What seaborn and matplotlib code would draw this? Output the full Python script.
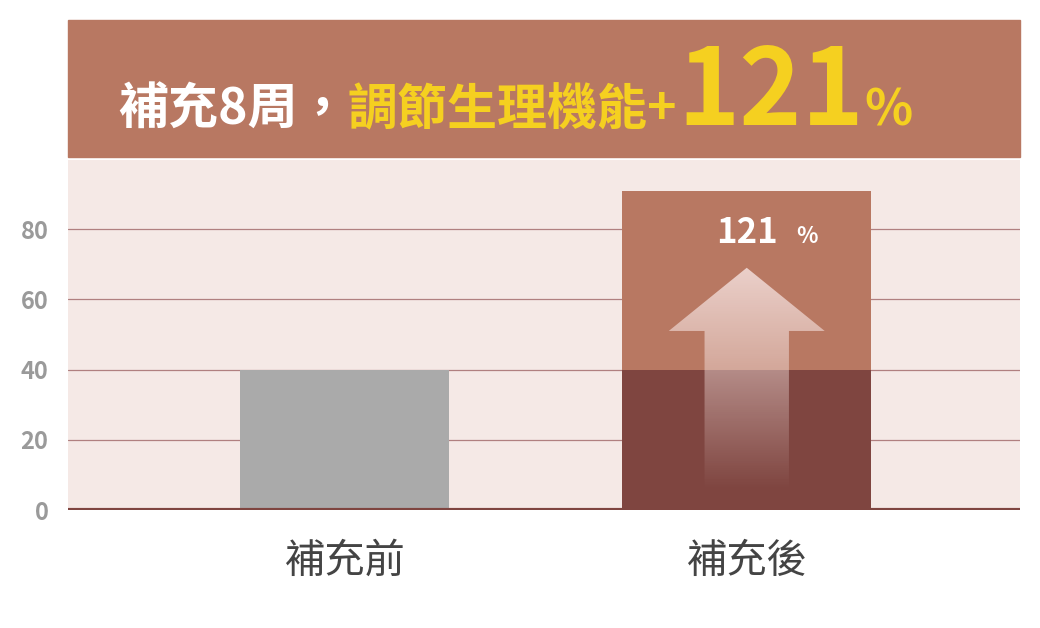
import matplotlib
matplotlib.use("Agg")
import matplotlib.pyplot as plt
import seaborn as sns
import numpy as np
import pandas as pd
from matplotlib.patches import Polygon, Rectangle

categories = ["補充前", "補充後"]
totals = [40, 91]
base = [40, 40]
yticks = [0, 20, 40, 60, 80]

sns.set_theme(style="white")
plt.rcParams['font.family'] = ['Noto Sans CJK TC', 'DejaVu Sans']

fig = plt.figure(figsize=(10.4, 6.28), dpi=100)
W, H = 1040, 628
ax = fig.add_axes([68/W, 1-510/H, 952/W, 350/H])
ax.set_facecolor("#f5e9e6")

df = pd.DataFrame({"cat": categories, "v": totals})
sns.barplot(data=df, x="cat", y="v", hue="cat", palette=["#aaaaaa", "#b87862"], legend=False, ax=ax, saturation=1)
df2 = pd.DataFrame({"cat": categories, "v": base})
sns.barplot(data=df2, x="cat", y="v", hue="cat", palette=["#aaaaaa", "#7f4540"], legend=False, ax=ax, saturation=1)
widths = [0.52, 0.62]
for i, p in enumerate(ax.patches):
    w = widths[i % 2]
    p.set_x((i % 2) - w/2); p.set_width(w); p.set_edgecolor("none"); p.set_zorder(2)

ax.set_xlim(-0.689, 1.68)
ax.set_ylim(0, 99.7)
ax.set_yticks(yticks)
for y in yticks[1:]:
    ax.axhline(y, color="#b08080", lw=0.9, zorder=1)
ax.axhline(0, color="#7f4540", lw=3, zorder=5)
for s in ax.spines.values():
    s.set_visible(False)
ax.tick_params(axis="y", length=0, pad=14, labelsize=17, labelcolor="#9a9a9a")
for t in ax.get_yticklabels():
    t.set_fontweight("bold")
ax.tick_params(axis="x", length=0, pad=22, labelsize=29, labelcolor="#444444")
ax.set_xlabel(""); ax.set_ylabel("")

# gradient arrow
cx = 1.0
pts = [(cx-0.105, 5.7), (cx-0.105, 51), (cx-0.194, 51), (cx, 69), (cx+0.194, 51), (cx+0.105, 51), (cx+0.105, 5.7)]
poly = Polygon(pts, closed=True, facecolor="none", edgecolor="none", transform=ax.transData)
ax.add_patch(poly)
grad = np.zeros((100, 2, 4))
alpha = np.linspace(0.0, 0.85, 100)
grad[:, :, :3] = [0.96, 0.88, 0.87]
grad[:, :, 3] = alpha[:, None]
im = ax.imshow(grad, extent=[cx-0.2, cx+0.2, 5.7, 69], origin="lower", aspect="auto", zorder=3)
im.set_clip_path(poly)

t1 = ax.text(1.0, 79, "121", color="white", fontsize=25, fontweight="bold", ha="center", va="center", zorder=4)
ax.text(1.15, 78, "%", color="white", fontsize=16, fontweight="bold", ha="center", va="center", zorder=4)

# title banner
fig.patches.append(Rectangle((68/W, 1-157/H), 952/W, 137/H, transform=fig.transFigure, color="#b87862"))
fig.canvas.draw()
r = fig.canvas.get_renderer()
x = 118
yb = 1-125/H
parts = [("補充8周，", "white", 36), ("調節生理機能+", "#f5d020", 36), ("121", "#f5d020", 76), ("%", "#f5d020", 36)]
for s, c, fs in parts:
    t = fig.text(x/W, yb, s, color=c, fontsize=fs, fontweight="bold", va="baseline", ha="left")
    bb = t.get_window_extent(r)
    x += bb.width
fig.savefig("out.png", dpi=100)
